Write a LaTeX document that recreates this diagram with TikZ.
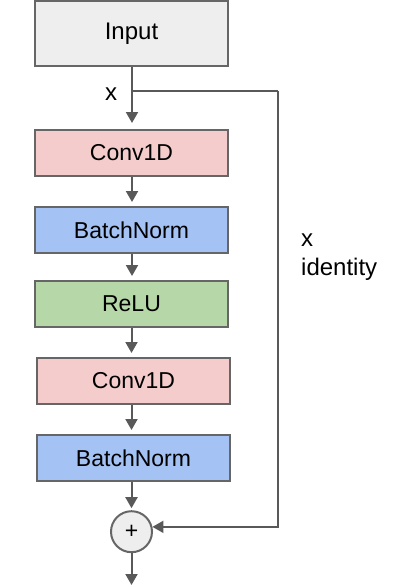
\documentclass[tikz,border=0pt]{standalone}
\usepackage{fontspec}
\setmainfont{Liberation Sans}
\usetikzlibrary{arrows.meta}
\definecolor{lineg}{HTML}{595959}
\definecolor{boxg}{HTML}{666666}
\definecolor{inpfill}{HTML}{EEEEEE}
\definecolor{convfill}{HTML}{F4CCCC}
\definecolor{bnfill}{HTML}{A4C2F4}
\definecolor{relufill}{HTML}{B6D7A8}
\tikzset{
  blk/.style={draw=boxg, line width=2pt, minimum width=193pt, minimum height=46pt, inner sep=0pt, font=\fontsize{23}{28}\selectfont},
  flow/.style={draw=lineg, line width=2pt, -{Triangle[width=12pt,length=11pt]}},
  plainline/.style={draw=lineg, line width=2pt},
  lbl/.style={font=\fontsize{24}{29}\selectfont, inner sep=0pt}
}
\begin{document}
\begin{tikzpicture}[x=1pt,y=-1pt]
\useasboundingbox (0,0) rectangle (415,587);
\node[blk, fill=inpfill, minimum height=65pt, font=\fontsize{24}{28}\selectfont] (inp) at (131.5,33.5) {Input};
\node[blk, fill=convfill] (c1) at (131.5,153) {Conv1D};
\node[blk, fill=bnfill] (b1) at (131.5,230) {BatchNorm};
\node[blk, fill=relufill] (r) at (131.5,304) {ReLU};
\node[blk, fill=convfill] (c2) at (133.5,381) {Conv1D};
\node[blk, fill=bnfill] (b2) at (133.5,458) {BatchNorm};
\node[circle, draw=boxg, fill=inpfill, line width=2pt, minimum size=41pt, inner sep=0pt, font=\fontsize{23}{28}\selectfont] (sum) at (131.5,531.7) {+};
\coordinate (br) at (132,91);
\coordinate (corner) at (278,91);
\coordinate (out) at (131.5,585);
\node[lbl, anchor=base] (xl) at (111,100) {x};
\node[lbl, anchor=base west, align=left] (idl) at (301,275) {x\\identity};
\draw[flow, shorten >=6pt] (inp.south -| 132,0) -- (c1.north -| 132,0);
\draw[flow, shorten >=4pt] (c1.south -| 132,0) -- (b1.north -| 132,0);
\draw[flow, shorten >=4pt] (b1.south -| 132,0) -- (r.north -| 132,0);
\draw[flow, shorten >=4pt] (r.south -| 131.5,0) -- (c2.north -| 131.5,0);
\draw[flow, shorten >=4pt] (c2.south -| 131.5,0) -- (b2.north -| 131.5,0);
\draw[flow, shorten >=2pt] (b2.south -| 131.5,0) -- (sum.north);
\draw[flow] (sum.south) -- (out);
\draw[plainline] (br) -- (corner);
\draw[flow] (corner) |- (sum.13);
\end{tikzpicture}
\end{document}
